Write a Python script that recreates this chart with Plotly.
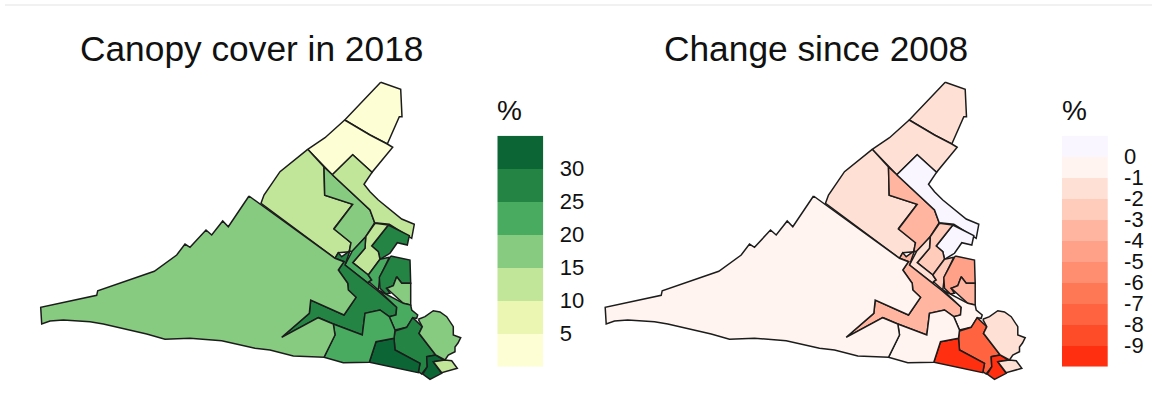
import plotly.graph_objects as go

# Region outlines, in map units (shared by both maps)
R1 = [(380.7,82.3),(400.7,89.3),(402,116.7),(399.3,116.7),(387.3,144),(370,135),(344.7,120),(363.3,100)]
R2 = [(344.7,120),(370,135),(387.3,144),(392.7,147.3),(372,172.3),(352.7,154.7),(332.3,174.7),(307.7,149.3),(325,137.7)]
R3 = [(307.7,149.3),(324,167),(324.7,195.3),(352.7,204.3),(334,228.3),(351,242.7),(349.3,251.7),(341.7,252.7),(338.3,252.7),(335,258.3),(261,203.3),(264,195),(270,186.7),(280,171.7)]
R4 = [(324,167),(332.3,174.7),(370,210),(374.7,222.7),(365.7,236.7),(352.3,251.7),(349.3,251),(351,242.7),(334,229),(352.7,204.3),(324.7,195.3)]
R5 = [(332.3,174.7),(352.7,154.7),(372,172.3),(364,184.3),(370,191.7),(378.3,200),(401.7,219),(414.3,224.3),(411.7,238.3),(389.3,224.3),(374.7,222.7),(370,210)]
R6 = [(388.3,225),(409.3,235.7),(407.3,245),(397.3,242.7),(390,253.3),(380,259.3),(378.3,251.7),(371.7,246)]
R7 = [(375,223.3),(388.3,225),(371.7,246),(378.3,251.7),(380,259.3),(368.3,275),(352.7,262.7),(365,248.3),(365.7,236.7)]
R8 = [(365.7,236.7),(365,248.3),(352.7,262.7),(368.3,275),(371.7,280),(368.3,283.3),(345,265),(350,255),(352.3,251)]
R9 = [(281.7,337.3),(309.3,313.3),(310.7,300),(344,315),(356,297.3),(348.3,290),(347.7,283.3),(338.3,270),(344,261.7),(335,258.3),(338.3,252.7),(341.7,256.7),(350,250.7),(345,265),(368.3,283.3),(376.7,290),(396.7,307.3),(396,315),(389.3,316.7),(380,310),(365,313.3),(362.3,335),(333.3,324),(318.3,317.7)]
R11 = [(380,259.3),(389.3,257.3),(380,276.7),(379,285),(378.3,290),(369,281.7),(371.7,280),(368.3,275)]
R12 = [(390.7,256),(410,260),(410.7,283.3),(401.7,283.3),(396.7,276.7),(393.3,285.7),(386.7,288.3),(390,293.3),(386,294),(380,288.3),(379.3,277.3)]
R13 = [(396.7,276.7),(401.7,283.3),(410.7,283.3),(410.7,305),(403.3,303.3),(386.7,288.3),(393.3,285.7)]
R14 = [(378.3,290),(386,294),(403.3,303.3),(410.7,305),(411.7,310),(417.7,315),(416.7,318.3),(412.7,317.7),(406.7,327.3),(395,330),(389.3,316.7),(396,315),(396.7,307.3)]
R15 = [(395,331),(406.7,327.3),(412.7,317.7),(422.3,326.7),(419,333.3),(435.7,355),(426.7,356.7),(427.3,366.7),(421.7,374),(418.3,371.7),(420,363.3),(395,350),(394,338.3)]
R16 = [(376,341.7),(394,338.3),(395,350),(420,363.3),(418.3,372.7),(369.3,362.3)]
R17 = [(426.7,356.7),(435.7,355),(444,360),(433.3,361.7),(441.7,373.3),(430,379.3),(422.7,374),(427.3,366.7)]
R18 = [(418.3,319.3),(425,316.7),(433.3,310.7),(440,312),(446.7,316.7),(449,320),(453.3,326.7),(453.3,335),(460.7,337.7),(458,343),(455,347),(455,351.7),(448.3,355),(445,360),(435.7,355),(419,333.3),(422.3,326.7)]
R19 = [(433.3,361.7),(445,360),(451.7,360.7),(457.3,368.3),(441.7,372.7)]
R20 = [(333.3,324),(362.3,335),(365,313.3),(380,310),(389.3,316.7),(395,330),(394,338.3),(376,341.7),(369.3,362.3),(343.3,362.7),(324,357.3),(335,335)]
R21 = [(249,196),(335,258.3),(344,261.7),(338.3,270),(347.7,283.3),(348.3,290),(356,297.3),(344,315),(310.7,300),(309.3,313.3),(281.7,337.3),(318.3,317.7),(333.3,324),(335,335),(324,357.3),(293.3,356),(270,350),(255,348.3),(221.7,340.7),(190,338.3),(165,339.3),(146.7,334),(103.3,324),(90,321.7),(63.3,320),(50,321),(41.7,324),(40.7,307.3),(96.7,295.3),(97.7,290.7),(154.3,271.3),(176.7,255),(185,244),(190,247.3),(206,230),(211.7,235),(222.7,221),(228.3,226.7)]

regions = [R1,R2,R3,R4,R5,R6,R7,R8,R9,R11,R12,R13,R14,R15,R16,R17,R18,R19,R20,R21]
# Estimated values per region, in the same order
canopy_2018 = [3,3,12,17,12,27,12,22,27,22,27,17,22,27,32,32,17,12,22,17]
change_2008 = [-1.5,-1.5,-1.5,-3.5,0.5,0.5,-2.5,-1.5,-3.5,-2.5,-4.5,-3.5,-0.5,-7.5,-9.5,-9.5,-1.5,-1.5,-0.5,-0.5]

green_edges = [0,5,10,15,20,25,30,35]
green_colors = ['#fdfed3','#eaf6b2','#c2e699','#87cb80','#49ab60','#238443','#0b6535']
green_ticks = [5,10,15,20,25,30]
red_edges = [-10,-9,-8,-7,-6,-5,-4,-3,-2,-1,0,1]
red_colors = ['#ff2f10','#ff4c28','#ff6340','#ff7855','#ff8d70','#ffa088','#ffb5a0','#ffcbba','#ffe0d5','#fff4ef','#f9f6ff']
red_ticks = [0,-1,-2,-3,-4,-5,-6,-7,-8,-9]

title_left = 'Canopy cover in 2018'
title_right = 'Change since 2008'
legend_title = '%'

W, H = 1152, 408
FONT = 'Liberation Sans, Arial, sans-serif'
TXT = '#111111'
MAP_SHIFT = 564.5


def bin_color(v, edges, colors):
    for lo, hi, c in zip(edges[:-1], edges[1:], colors):
        if lo <= v < hi:
            return c
    return colors[-1]


fig = go.Figure()
for axis_suffix, values, edges, colors in (('', canopy_2018, green_edges, green_colors),
                                           ('2', change_2008, red_edges, red_colors)):
    for poly, v in zip(regions, values):
        xs = [p[0] for p in poly] + [poly[0][0]]
        ys = [p[1] for p in poly] + [poly[0][1]]
        fig.add_trace(go.Scatter(x=xs, y=ys, mode='lines', fill='toself',
                                 fillcolor=bin_color(v, edges, colors),
                                 line=dict(color='#1c1c1c', width=1.5),
                                 hoverinfo='skip', showlegend=False,
                                 xaxis='x' + axis_suffix, yaxis='y' + axis_suffix))


def band(edges, colors, xa, ya):
    n = len(colors)
    z = [[(i + 0.5) / n] for i in range(n)]
    scale = []
    for i, c in enumerate(colors):
        scale += [[i / n, c], [(i + 1) / n, c]]
    return go.Heatmap(z=z, x=[0, 1], y=edges, zmin=0, zmax=1, colorscale=scale,
                      showscale=False, hoverinfo='skip', xaxis=xa, yaxis=ya, xgap=0, ygap=0)


fig.add_trace(band(green_edges, green_colors, 'x3', 'y3'))
fig.add_trace(band(red_edges, red_colors, 'x4', 'y4'))

hidden = dict(visible=False, fixedrange=True)
top, bottom = 135.7, 366.7
ydom = [(H - bottom) / H, (H - top) / H]
tick_style = dict(side='right', ticks='outside', ticklen=11, tickcolor='rgba(0,0,0,0)',
                  showgrid=False, zeroline=False, showline=False,
                  tickfont=dict(family=FONT, size=22, color=TXT), fixedrange=True)

fig.update_layout(
    width=W, height=H, autosize=False,
    margin=dict(l=0, r=0, t=0, b=0),
    paper_bgcolor='white', plot_bgcolor='white',
    xaxis=dict(domain=[0, 0.5], range=[0, W / 2], **hidden),
    yaxis=dict(domain=[0, 1], range=[H, 0], **hidden),
    xaxis2=dict(domain=[0.5, 1], range=[W / 2 - MAP_SHIFT, W - MAP_SHIFT], **hidden),
    yaxis2=dict(domain=[0, 1], range=[H, 0], anchor='x2', **hidden),
    xaxis3=dict(domain=[497.3 / W, 543.3 / W], range=[0, 1], anchor='y3', **hidden),
    yaxis3=dict(domain=ydom, range=[0, 35], anchor='x3', tickvals=green_ticks,
                ticktext=[str(t) for t in green_ticks], **tick_style),
    xaxis4=dict(domain=[1062 / W, 1107.7 / W], range=[0, 1], anchor='y4', **hidden),
    yaxis4=dict(domain=ydom, range=[-10, 1], anchor='x4', tickvals=red_ticks,
                ticktext=[str(t) for t in red_ticks], **tick_style),
    shapes=[dict(type='line', xref='paper', yref='paper', x0=5 / W, x1=1,
                 y0=(H - 5) / H, y1=(H - 5) / H, line=dict(color='#ececec', width=1.5))],
    annotations=[
        dict(text=title_left, xref='paper', yref='paper', x=251 / W, y=(H - 48) / H,
             showarrow=False, xanchor='center', yanchor='middle',
             font=dict(family=FONT, size=35.3, color=TXT)),
        dict(text=title_right, xref='paper', yref='paper', x=815.5 / W, y=(H - 48) / H,
             showarrow=False, xanchor='center', yanchor='middle',
             font=dict(family=FONT, size=35.3, color=TXT)),
        dict(text=legend_title, xref='paper', yref='paper', x=495 / W, y=(H - 110) / H,
             showarrow=False, xanchor='left', yanchor='middle',
             font=dict(family=FONT, size=28, color=TXT)),
        dict(text=legend_title, xref='paper', yref='paper', x=1060 / W, y=(H - 110) / H,
             showarrow=False, xanchor='left', yanchor='middle',
             font=dict(family=FONT, size=28, color=TXT)),
    ],
)

fig.write_html('out.html', config=dict(displayModeBar=False),
               post_script="document.body.style.margin='0';")
